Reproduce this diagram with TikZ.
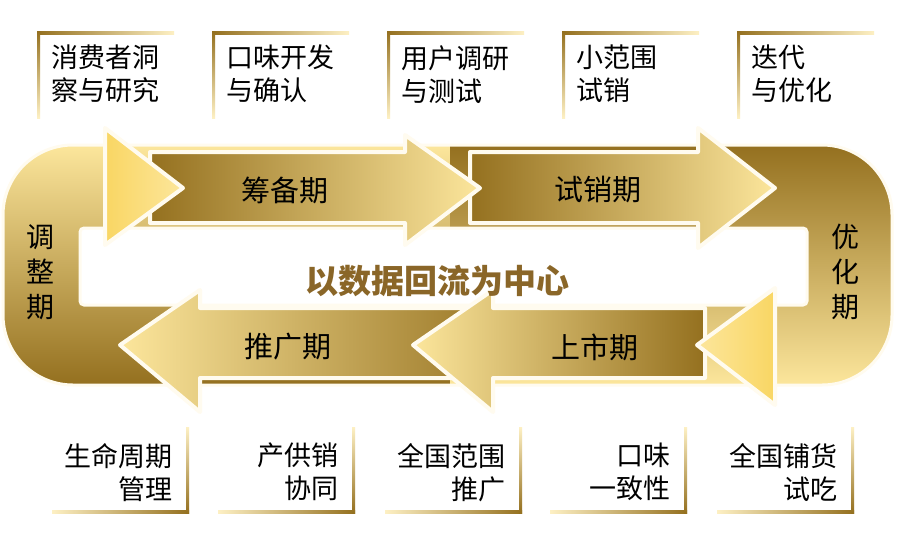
\documentclass[tikz,border=0pt]{standalone}
\usepackage{fontspec}
\setmainfont{Noto Sans CJK SC}
\usetikzlibrary{positioning}
\definecolor{golddark}{HTML}{94701F}
\definecolor{goldmid}{HTML}{E9BC3A}
\definecolor{goldlight}{HTML}{F9D663}
\definecolor{goldpale}{HTML}{FCE69C}
\definecolor{cream}{HTML}{FFFBEF}
\definecolor{brownText}{HTML}{8A6628}
\tikzset{
  rim/.style={draw=cream, line width=4pt, line join=round},
  boxtext/.style={font=\fontsize{27}{33}\selectfont, align=left, inner sep=0pt},
  boxtextr/.style={font=\fontsize{27}{33}\selectfont, align=right, inner sep=0pt},
  phase/.style={font=\fontsize{29}{30}\selectfont, inner sep=0pt},
  vphase/.style={font=\fontsize{28}{35}\selectfont, align=center, inner sep=0pt}
}
\begin{document}
\begin{tikzpicture}[x=1pt,y=-1pt]
\useasboundingbox (0,0) rectangle (909,547);
\fill[white] (0,0) rectangle (909,547);

% loop behind the arrows
\begin{scope}
  \clip (0,0) rectangle (450,547);
  \shade[top color=goldpale, middle color=goldmid, bottom color=golddark, even odd rule]
    (3,145) [rounded corners=70pt] rectangle (892,385)
    (80,228) [rounded corners=4pt] rectangle (807,305);
\end{scope}
\begin{scope}
  \clip (450,0) rectangle (909,547);
  \shade[top color=golddark, middle color=goldmid, bottom color=goldpale, even odd rule]
    (3,145) [rounded corners=70pt] rectangle (892,385)
    (80,228) [rounded corners=4pt] rectangle (807,305);
\end{scope}
\draw[cream, line width=3pt] (3,145) [rounded corners=70pt] rectangle (892,385);
\draw[cream, line width=3pt] (80,228) [rounded corners=4pt] rectangle (807,305);

% top row
\shade[rim, left color=golddark, middle color=goldlight, right color=goldpale]
  (470,152) -- (698,152) -- (698,128) -- (775,188) -- (698,248) -- (698,223) -- (470,223) -- cycle;
\shade[rim, left color=golddark, middle color=goldlight, right color=goldpale]
  (150,152) -- (405,152) -- (405,135) -- (480,188) -- (405,245) -- (405,223) -- (150,223) -- cycle;
\shade[rim, left color=goldlight, right color=goldpale]
  (105,128) -- (183,188) -- (105,245) -- cycle;

% bottom row
\shade[rim, left color=goldpale, middle color=goldlight, right color=golddark]
  (520,308) -- (200,308) -- (200,290) -- (120,345) -- (200,412) -- (200,378) -- (520,378) -- cycle;
\shade[rim, left color=goldpale, middle color=goldlight, right color=golddark]
  (705,308) -- (493,308) -- (493,290) -- (413,345) -- (493,412) -- (493,378) -- (705,378) -- cycle;
\shade[rim, left color=goldpale, right color=goldlight]
  (775,288) -- (697,345) -- (775,405) -- cycle;

% phase labels
\node[phase] (prep) at (285,190) {筹备期};
\node[phase] (trial) at (598,190) {试销期};
\node[phase] (promo) at (288,347) {推广期};
\node[phase] (launch) at (595,347) {上市期};
\node[vphase] (adjust) at (40,272) {调\\整\\期};
\node[vphase] (optim) at (845,272) {优\\化\\期};
\node[font=\fontsize{33}{35}\selectfont\bfseries, text=brownText] (core) at (437,281) {以数据回流为中心};

% top brackets
\foreach \x/\txt in {37/{消费者洞\\察与研究}, 212/{口味开发\\与确认}, 387/{用户调研\\与测试}, 562/{小范围\\试销}, 737/{迭代\\与优化}} {
  \shade[left color=golddark, right color=goldpale!60] (\x,31) rectangle (\x+137,34);
  \shade[top color=golddark, bottom color=goldpale!60] (\x,31) rectangle (\x+3,118);
  \node[boxtext, anchor=north west] at (\x+14,45) {\txt};
}
% bottom brackets
\foreach \x/\txt in {187/{生命周期\\管理}, 353/{产供销\\协同}, 520/{全国范围\\推广}, 685/{口味\\一致性}, 852/{全国铺货\\试吃}} {
  \shade[left color=goldpale!60, right color=golddark] (\x-135,510) rectangle (\x+2,513);
  \shade[top color=goldpale!60, bottom color=golddark] (\x-1,427) rectangle (\x+2,513);
  \node[boxtextr, anchor=north east] at (\x-14,443) {\txt};
}
\end{tikzpicture}
\end{document}
